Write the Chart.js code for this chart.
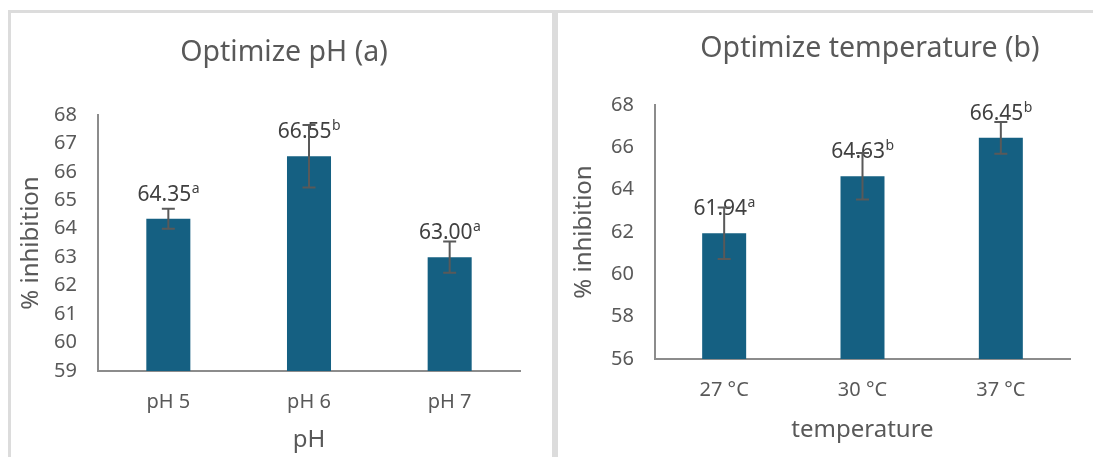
<!DOCTYPE html>
<html><head><meta charset="utf-8">
<script src="https://cdn.jsdelivr.net/npm/chart.js@4.4.1/dist/chart.umd.min.js"></script>
<style>
html,body{margin:0;padding:0;background:#fff;overflow:hidden;width:1093px;height:457px;position:relative}
.panel{position:absolute;border:3px solid #dcdcdc;box-sizing:border-box}
canvas{position:absolute;top:0}
</style></head><body>
<div class="panel" style="left:8px;top:10px;width:547px;height:470px"></div>
<div class="panel" style="left:555px;top:10px;width:560px;height:470px"></div>
<canvas id="c1" width="568" height="457" style="left:0"></canvas>
<canvas id="c2" width="630" height="457" style="left:555px"></canvas>
<script>
// ---- data ----
const phLabels = ['pH 5', 'pH 6', 'pH 7'];
const phMeans = [64.35, 66.55, 63.00];
const phErrors = [0.35, 1.10, 0.55];
const phLetters = ['a', 'b', 'a'];
const phValueText = ['64.35', '66.55', '63.00'];

const tempLabels = ['27 °C', '30 °C', '37 °C'];
const tempMeans = [61.94, 64.63, 66.45];
const tempErrors = [1.22, 1.10, 0.75];
const tempLetters = ['a', 'b', 'b'];
const tempValueText = ['61.94', '64.63', '66.45'];

const phAxis = {min: 59, max: 68, step: 1};
const tempAxis = {min: 56, max: 68, step: 2};

const FONT = "'Noto Sans', 'Liberation Sans', sans-serif";
const GRAY = '#595959';
const BAR = '#156082';

const annotate = {
  id: 'annotate',
  afterDatasetsDraw(chart) {
    const cfg = chart.options.plugins.annotate;
    const ctx = chart.ctx;
    const y = chart.scales.y;
    const meta = chart.getDatasetMeta(0);
    ctx.save();
    meta.data.forEach((bar, i) => {
      const cx = bar.x;
      const top = y.getPixelForValue(cfg.means[i]);
      // label
      ctx.font = '21px ' + FONT;
      const w1 = ctx.measureText(cfg.texts[i]).width;
      ctx.font = '14px ' + FONT;
      const w2 = ctx.measureText(cfg.letters[i]).width;
      const x0 = cx - (w1 + w2) / 2;
      const base = top - 18;
      ctx.fillStyle = '#404040';
      ctx.textAlign = 'left';
      ctx.textBaseline = 'alphabetic';
      ctx.font = '21px ' + FONT;
      ctx.fillText(cfg.texts[i], x0, base);
      ctx.font = '14px ' + FONT;
      ctx.fillText(cfg.letters[i], x0 + w1 + 0.5, base - 8);
      // error bar
      const yt = y.getPixelForValue(cfg.means[i] + cfg.errors[i]);
      const yb = y.getPixelForValue(cfg.means[i] - cfg.errors[i]);
      ctx.strokeStyle = '#595959';
      ctx.lineWidth = 2;
      ctx.beginPath();
      ctx.moveTo(cx, yt); ctx.lineTo(cx, yb);
      ctx.moveTo(cx - 6.5, yt); ctx.lineTo(cx + 6.5, yt);
      ctx.moveTo(cx - 6.5, yb); ctx.lineTo(cx + 6.5, yb);
      ctx.stroke();
    });
    ctx.restore();
  }
};

function makeChart(id, o) {
  return new Chart(document.getElementById(id), {
    type: 'bar',
    data: {
      labels: o.labels,
      datasets: [{
        data: o.means,
        backgroundColor: BAR,
        borderWidth: 0,
        categoryPercentage: 1,
        barPercentage: o.barPct
      }]
    },
    options: {
      responsive: false,
      animation: false,
      events: [],
      layout: {padding: 0},
      plugins: {
        legend: {display: false},
        tooltip: {enabled: false},
        title: {
          display: true,
          text: o.title,
          color: GRAY,
          font: {family: FONT, size: 28.5, weight: 'normal', lineHeight: 1.2},
          padding: {top: o.titleTop, bottom: o.titleBottom}
        },
        annotate: {means: o.means, errors: o.errors, letters: o.letters, texts: o.texts}
      },
      scales: {
        x: {
          grid: {display: false, drawTicks: false},
          border: {display: true, color: '#8c8c8c', width: 2},
          ticks: {color: GRAY, font: {family: FONT, size: 20}, padding: 19},
          title: {display: true, text: o.xTitle, color: GRAY,
                  font: {family: FONT, size: 24, lineHeight: 1.2},
                  padding: {top: 0, bottom: o.xTitleBottom}},
          afterFit(s) { s.height = o.xHeight; }
        },
        y: {
          min: o.axis.min, max: o.axis.max,
          grid: {display: false, drawTicks: false},
          border: {display: true, color: '#8c8c8c', width: 2},
          ticks: {stepSize: o.axis.step, color: GRAY, font: {family: FONT, size: 20}, padding: 21},
          title: {display: true, text: '% inhibition', color: GRAY,
                  font: {family: FONT, size: 24, lineHeight: 1.2},
                  padding: {top: o.yTitleTop, bottom: 0}},
          afterFit(s) { s.width = o.yWidth; }
        },
        yR: {
          type: 'linear', position: 'right', display: true,
          grid: {display: false, drawTicks: false},
          border: {display: false},
          ticks: {display: false},
          afterFit(s) { s.width = o.rightWidth; }
        }
      }
    },
    plugins: [annotate]
  });
}

makeChart('c1', {
  labels: phLabels, means: phMeans, errors: phErrors, letters: phLetters, texts: phValueText,
  axis: phAxis, title: 'Optimize pH (a)', xTitle: 'pH',
  titleTop: 35.9, titleBottom: 44.9, xHeight: 86, xTitleBottom: 2.6,
  yWidth: 98, yTitleTop: 16.6, rightWidth: 48, barPct: 0.313
});
makeChart('c2', {
  labels: tempLabels, means: tempMeans, errors: tempErrors, letters: tempLetters, texts: tempValueText,
  axis: tempAxis, title: 'Optimize temperature (b)', xTitle: 'temperature',
  titleTop: 31.9, titleBottom: 38.9, xHeight: 98, xTitleBottom: 12.6,
  yWidth: 100, yTitleTop: 14.6, rightWidth: 115, barPct: 0.318
});
</script>
</body></html>
